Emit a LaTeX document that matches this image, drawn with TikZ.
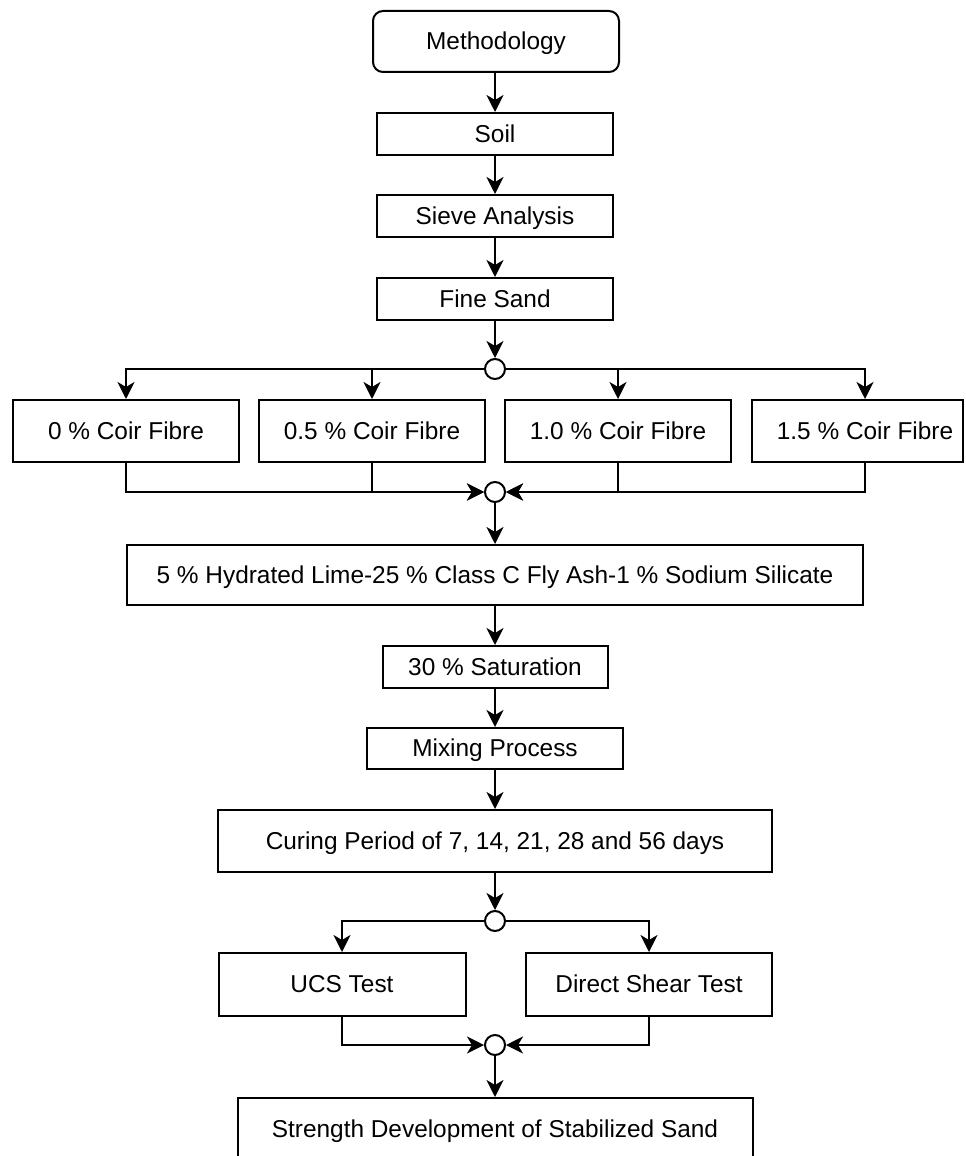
\documentclass[tikz,border=0pt]{standalone}
\usepackage{fontspec}
\setmainfont{Liberation Sans}
\usetikzlibrary{arrows.meta,positioning}
\begin{document}
\begin{tikzpicture}[x=0.5pt,y=-0.5pt,
  box/.style={draw=black,line width=1pt,fill=white,inner sep=0pt,text height=9.6pt,text depth=1.2pt,font=\fontsize{12.2pt}{14pt}\selectfont},
  junc/.style={draw=black,line width=1pt,fill=white,circle,inner sep=0pt,minimum size=10pt},
  conn/.style={line width=1.2pt,draw=black},
  arr/.style={conn,-{Stealth[length=8.5pt,width=8.5pt,inset=2.5pt]}}]
\clip (0,0) rectangle (965,1156);
\fill[white] (0,0) rectangle (965,1156);
% main column
\node[box,rounded corners=5pt,minimum width=123pt,minimum height=30.5pt] (meth) at (496,41.5) {Methodology};
\node[box,minimum width=118pt,minimum height=21pt] (soil) at (495,134) {Soil};
\node[box,minimum width=118pt,minimum height=21pt] (sieve) at (495,216) {Sieve Analysis};
\node[box,minimum width=118pt,minimum height=21pt] (fine) at (495,299) {Fine Sand};
\node[junc] (j1) at (495,369) {};
% fibre boxes
\node[box,minimum width=113pt,minimum height=31pt] (f0) at (126,431) {0 \% Coir Fibre};
\node[box,minimum width=113pt,minimum height=31pt] (f05) at (372,431) {0.5 \% Coir Fibre};
\node[box,minimum width=113pt,minimum height=31pt] (f10) at (618,431) {1.0 \% Coir Fibre};
\node[box,minimum width=105.5pt,minimum height=31pt] (f15) at (857.5,431) {\hspace*{7.5pt}1.5 \% Coir Fibre};
\node[junc] (j2) at (495,492) {};
\node[box,minimum width=368pt,minimum height=30pt] (lime) at (495,575) {5 \% Hydrated Lime-25 \% Class C Fly Ash-1 \% Sodium Silicate};
\node[box,minimum width=112.5pt,minimum height=21pt] (sat) at (495,667) {30 \% Saturation};
\node[box,minimum width=128pt,minimum height=20.5pt] (mix) at (495,748.5) {Mixing Process};
\node[box,minimum width=277pt,minimum height=31pt] (cur) at (495,841) {Curing Period of 7, 14, 21, 28 and 56 days};
\node[junc] (j3) at (495,921) {};
\node[box,minimum width=123.5pt,minimum height=31.5pt] (ucs) at (342,984.5) {UCS Test};
\node[box,minimum width=123pt,minimum height=31.5pt] (dst) at (649,984.5) {Direct Shear Test};
\node[junc] (j4) at (495,1045) {};
\node[box,minimum width=257.5pt,minimum height=31pt] (str) at (495,1129) {Strength Development of Stabilized Sand};
% connectors
\draw[arr] (meth.south -| soil.north) -- (soil.north);
\draw[arr] (soil) -- (sieve);
\draw[arr] (sieve) -- (fine);
\draw[arr] (fine) -- (j1);
\draw[arr] (j1.west) -| (f0.north);
\draw[arr] (j1.west) -| (f05.north);
\draw[arr] (j1.east) -| (f10.north);
\draw[arr] (j1.east) -| ([xshift=3.75pt]f15.north);
\draw[arr] (f0.south) |- (j2.west);
\draw[arr] (f05.south) |- (j2.west);
\draw[arr] (f10.south) |- (j2.east);
\draw[arr] ([xshift=3.75pt]f15.south) |- (j2.east);
\draw[arr] (j2) -- (lime);
\draw[arr] (lime) -- (sat);
\draw[arr] (sat) -- (mix);
\draw[arr] (mix) -- (cur);
\draw[arr] (cur) -- (j3);
\draw[arr] (j3.west) -| (ucs.north);
\draw[arr] (j3.east) -| (dst.north);
\draw[arr] (ucs.south) |- (j4.west);
\draw[arr] (dst.south) |- (j4.east);
\draw[arr] (j4) -- (str);
\end{tikzpicture}
\end{document}
